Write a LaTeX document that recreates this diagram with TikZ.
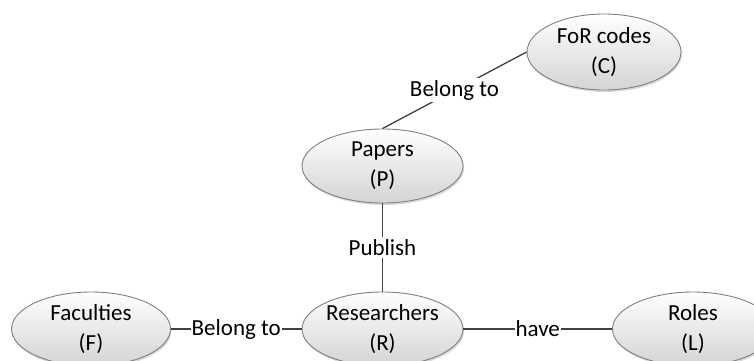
\documentclass[tikz,border=0pt]{standalone}
\usepackage{fontspec}
\setmainfont{Carlito}
\usetikzlibrary{shapes.geometric,shadows}
\begin{document}
\begin{tikzpicture}[x=1pt,y=1pt,
  font=\fontsize{23}{30}\selectfont,
  entity/.style={ellipse, draw=black!50, line width=0.9pt,
    top color=white, bottom color=black!17,
    drop shadow={shadow xshift=1pt, shadow yshift=-2pt, opacity=0.25, fill=black!60},
    minimum width=161pt, minimum height=74pt, inner sep=0pt, align=center},
  link/.style={draw=black!75, line width=1.3pt},
  rel/.style={fill=white, inner sep=1pt, text=black}]
  \useasboundingbox (0,0) rectangle (754,360);

  % entities
  \node[entity, minimum width=154pt, minimum height=76pt] (C) at (604,308) {FoR codes\\(C)};
  \node[entity] (P) at (382.5,194) {Papers\\(P)};
  \node[entity] (R) at (382.5,31) {Researchers\\(R)};
  \node[entity, minimum width=159pt] (F) at (91,31) {Faculties\\(F)};
  \node[entity] (L) at (693,31) {Roles\\(L)};

  % relationships
  \draw[link] (P.north) -- node[rel, inner sep=2pt] {Belong to} (C.west);
  \draw[link] (P.south) -- node[rel, inner sep=2pt] {Publish} (R.north);
  \draw[link] (F.east) -- node[rel] {Belong to} (R.west);
  \draw[link] (R.east) -- node[rel] {have} (L.west);
\end{tikzpicture}
\end{document}
